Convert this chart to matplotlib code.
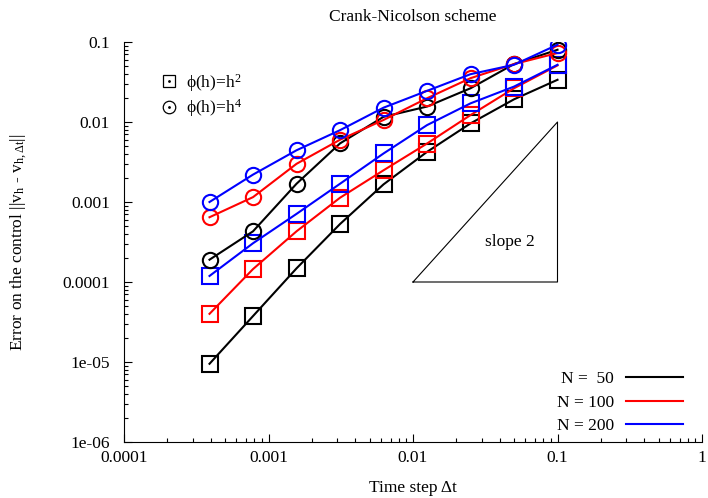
import matplotlib
matplotlib.use("Agg")
import matplotlib.pyplot as plt
from matplotlib.ticker import FixedLocator, FixedFormatter, LogLocator, NullFormatter
from matplotlib.lines import Line2D

plt.rcParams["font.family"] = ["Liberation Serif", "DejaVu Serif"]
plt.rcParams["mathtext.fontset"] = "custom"
plt.rcParams["mathtext.rm"] = "Liberation Serif"
plt.rcParams["mathtext.it"] = "Liberation Serif:italic"

FS = 12.5

# time steps (T / Nt, Nt = 10 ... 2560)
dt = [0.1 / 2 ** k for k in range(9)][::-1]

# errors, phi(h) = h^2  (squares)
err_sq_50 = [9.5e-6, 3.75e-5, 1.48e-4, 5.3e-4, 1.66e-3, 4.23e-3, 9.6e-3, 0.0192, 0.0337]
err_sq_100 = [4.0e-5, 1.45e-4, 4.3e-4, 1.13e-3, 2.49e-3, 5.38e-3, 0.0122, 0.0264, 0.051]
err_sq_200 = [1.19e-4, 3.05e-4, 7.1e-4, 1.69e-3, 4.04e-3, 9.14e-3, 0.0171, 0.0277, 0.0519]

# errors, phi(h) = h^4  (circles)
err_ci_50 = [1.9e-4, 4.3e-4, 1.69e-3, 5.4e-3, 0.0116, 0.0156, 0.0264, 0.053, 0.080]
err_ci_100 = [6.45e-4, 1.15e-3, 3.0e-3, 6.0e-3, 0.0106, 0.0198, 0.0353, 0.053, 0.0728]
err_ci_200 = [1.0e-3, 2.2e-3, 4.43e-3, 7.9e-3, 0.0151, 0.0245, 0.0396, 0.0519, 0.0925]

n_labels = ["N =  50", "N = 100", "N = 200"]
colors = ["black", "red", "blue"]

x_ticks = [1e-4, 1e-3, 1e-2, 1e-1, 1]
x_ticklabels = ["0.0001", "0.001", "0.01", "0.1", "1"]
y_ticks = [1e-6, 1e-5, 1e-4, 1e-3, 1e-2, 1e-1]
y_ticklabels = ["1e-06", "1e-05", "0.0001", "0.001", "0.01", "0.1"]

# reference slope-2 triangle
tri_x = [0.01, 0.1, 0.1, 0.01]
tri_y = [1e-4, 1e-4, 1e-2, 1e-4]

fig = plt.figure(figsize=(7.08, 4.98), dpi=100)
ax = fig.add_axes([124 / 708, 56 / 498, 578 / 708, 400 / 498])

mk = dict(markersize=11, markeredgewidth=1.5, markerfacecolor="none", linewidth=1.5)
for ys, c in zip([err_sq_50, err_sq_100, err_sq_200], colors):
    ax.plot(dt, ys, color=c, marker="s", **mk)
for ys, c in zip([err_ci_50, err_ci_100, err_ci_200], colors):
    ax.plot(dt, ys, color=c, marker="o", **mk)

ax.plot(tri_x, tri_y, color="black", linewidth=0.8)
ax.text(0.047, 3.2e-4, "slope 2", fontsize=FS, ha="center", va="center")

ax.set_xscale("log")
ax.set_yscale("log")
ax.set_xlim(1e-4, 1)
ax.set_ylim(1e-6, 0.1)

ax.xaxis.set_major_locator(FixedLocator(x_ticks))
ax.xaxis.set_major_formatter(FixedFormatter(x_ticklabels))
ax.yaxis.set_major_locator(FixedLocator(y_ticks))
ax.yaxis.set_major_formatter(FixedFormatter(y_ticklabels))
ax.xaxis.set_minor_locator(LogLocator(base=10, subs=range(2, 10)))
ax.yaxis.set_minor_locator(LogLocator(base=10, subs=range(2, 10)))
ax.xaxis.set_minor_formatter(NullFormatter())
ax.yaxis.set_minor_formatter(NullFormatter())
ax.tick_params(which="both", direction="in", labelsize=FS)
ax.tick_params(which="major", length=6, width=0.8, pad=6)
ax.tick_params(which="minor", length=3, width=0.8)
ax.tick_params(axis="y", pad=10)

for side in ["top", "right"]:
    ax.spines[side].set_visible(False)
for side in ["bottom", "left"]:
    ax.spines[side].set_linewidth(0.8)

ax.set_xlabel("Time step Δt", fontsize=FS, labelpad=10)
ax.set_ylabel(r"Error on the control ||v$_{\mathrm{h}}$ - v$_{\mathrm{h,Δt}}$||",
              fontsize=FS, labelpad=24)
ax.set_title("Crank-Nicolson scheme", fontsize=FS, pad=15)

# marker-type key (open marker with centre dot)
dot = Line2D([], [], color="black", marker=".", linestyle="none", markersize=2)
sq = Line2D([], [], color="black", marker="s", linestyle="none", markersize=9,
            markerfacecolor="none", markeredgewidth=0.9)
ci = Line2D([], [], color="black", marker="o", linestyle="none", markersize=9,
            markerfacecolor="none", markeredgewidth=0.9)
leg1 = ax.legend([(sq, dot), (ci, dot)], ["ϕ(h)=h$^2$", "ϕ(h)=h$^4$"], loc="upper left",
                 bbox_to_anchor=(0.035, 0.965), frameon=False, fontsize=FS,
                 handlelength=1.0, handletextpad=0.5, labelspacing=0.2)
ax.add_artist(leg1)

# line-colour key
n_handles = [Line2D([], [], color=c, linewidth=1.5) for c in colors]
ax.legend(n_handles, n_labels, loc="lower right", bbox_to_anchor=(0.995, -0.02),
          frameon=False, fontsize=FS, handlelength=3.3, handletextpad=0.7,
          labelspacing=0.42, markerfirst=False)

fig.savefig("out.png", dpi=100)
